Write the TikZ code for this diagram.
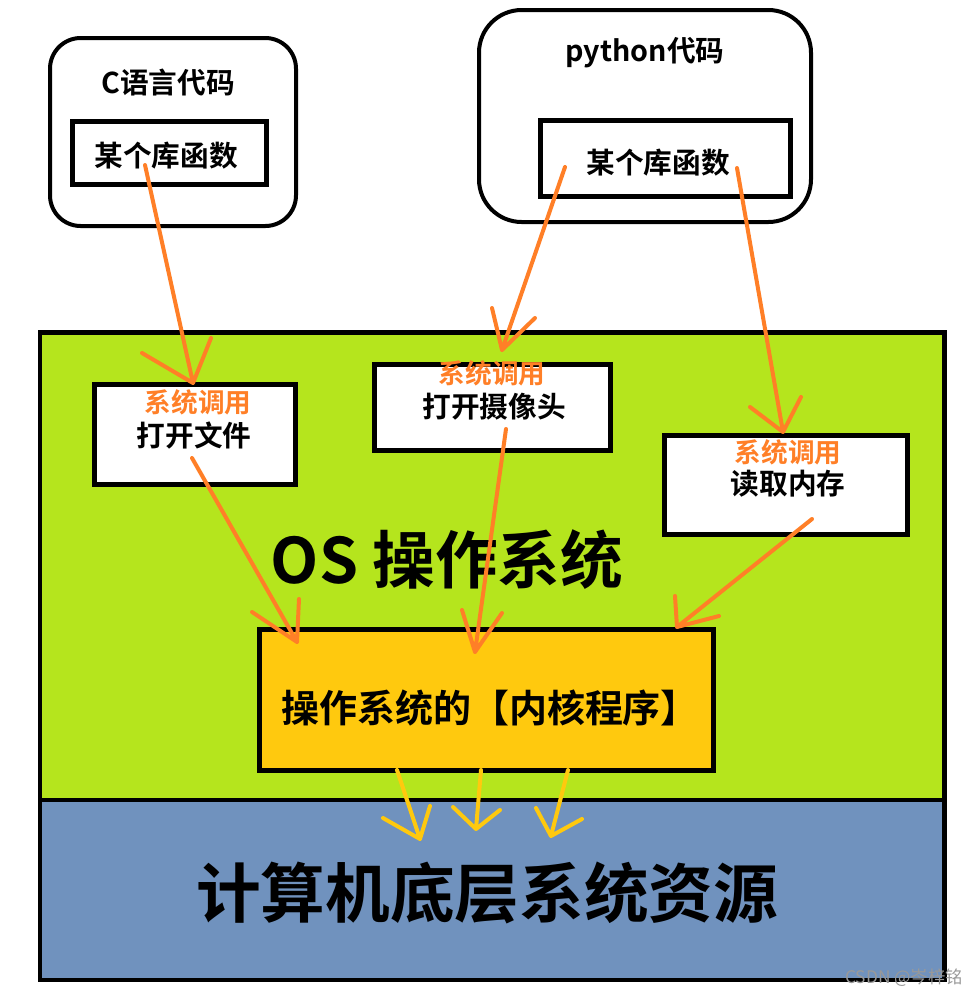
\documentclass[tikz,border=0pt]{standalone}
\usepackage{fontspec}
\setmainfont{Noto Sans CJK SC}[BoldFont={* Bold}]
\definecolor{zonegreen}{HTML}{B5E51D}
\definecolor{zoneblue}{HTML}{7092BE}
\definecolor{kernely}{HTML}{FFC90E}
\definecolor{callorange}{HTML}{FF7F27}
\def\u{0.75pt}
\begin{document}
\begin{tikzpicture}[x=0.75pt,y=-0.75pt,
  zone/.style={draw=black,line width=3.5pt},
  codebox/.style={draw=black,line width=3pt,fill=white,inner sep=0pt},
  libbox/.style={draw=black,line width=3.5pt,fill=white,inner sep=0pt},
  callbox/.style={draw=black,line width=3.8pt,fill=white,inner sep=0pt},
  kernelbox/.style={draw=black,line width=3.8pt,fill=kernely,inner sep=0pt},
  lbl/.style={font=\bfseries\fontsize{21.5pt}{24pt}\selectfont,inner sep=0pt},
  call/.style={font=\bfseries\fontsize{20pt}{22pt}\selectfont,text=callorange,inner sep=0pt},
  arr/.style={draw=callorange,line width=3pt,line cap=round,line join=round},
  yarr/.style={draw=kernely,line width=3pt,line cap=round,line join=round}]
\useasboundingbox (0,0) rectangle (973,997);

% zones
\node[zone,fill=zonegreen,minimum width=904.5*\u,minimum height=467.5*\u,inner sep=0pt] (os) at (492.25,566.25) {};
\node[zone,fill=zoneblue,minimum width=904.5*\u,minimum height=180*\u,inner sep=0pt] (hw) at (492.25,890) {};

% code boxes
\node[codebox,rounded corners=23pt,minimum width=246*\u,minimum height=188*\u] (cbox) at (173,132) {};
\node[lbl] (ctitle) at (168,83) {C语言代码};
\node[libbox,minimum width=194*\u,minimum height=63*\u] (clib) at (169.5,153) {};
\node[lbl] (clibt) at (166,156) {某个库函数};

\node[codebox,rounded corners=32pt,minimum width=332*\u,minimum height=212*\u] (pbox) at (645,116) {};
\node[lbl] (ptitle) at (645,53) {python代码};
\node[libbox,minimum width=250*\u,minimum height=76*\u] (plib) at (665.5,158.5) {};
\node[lbl] (plibt) at (658,163) {某个库函数};

% system call boxes
\node[callbox,minimum width=201*\u,minimum height=100*\u] (open) at (195,434.5) {};
\node[call] (call1) at (198,402) {系统调用};
\node[lbl] (opent) at (194,436) {打开文件};

\node[callbox,minimum width=236*\u,minimum height=86*\u] (cam) at (492.5,407.5) {};
\node[call] (call2) at (492,373) {系统调用};
\node[lbl] (camt) at (494,407) {打开摄像头};

\node[callbox,minimum width=243*\u,minimum height=99*\u] (mem) at (786,485) {};
\node[call] (call3) at (788,452) {系统调用};
\node[lbl] (memt) at (788,484) {读取内存};

% titles
\node[font=\bfseries\fontsize{47pt}{52pt}\selectfont,inner sep=0pt] (ostitle) at (447,560) {OS 操作系统};

% kernel
\node[kernelbox,minimum width=454*\u,minimum height=141*\u] (kernel) at (486.5,700) {};
\node[font=\bfseries\fontsize{28.5pt}{32pt}\selectfont,inner sep=0pt] (kernelt) at (490,708) {操作系统的【内核程序】};

\node[font=\bfseries\fontsize{48.5pt}{54pt}\selectfont,inner sep=0pt] (hwt) at (487,893) {计算机底层系统资源};

\node[font=\fontsize{13pt}{15pt}\selectfont,text=black!40,inner sep=0pt] (wm) at (904,978) {CSDN @岑梓铭};

% orange system-call arrows
\coordinate (a1s) at (145,165); \coordinate (a1t) at (193,383);
\coordinate (a2s) at (565,167); \coordinate (a2t) at (502,350);
\coordinate (a3s) at (737,168); \coordinate (a3t) at (783,432);
\coordinate (a4s) at (192,458); \coordinate (a4t) at (297,642);
\coordinate (a5s) at (506,429); \coordinate (a5t) at (475,652);
\coordinate (a6s) at (812,519); \coordinate (a6t) at (677,627);
\draw[arr] (a1s) -- (a1t) (142,353) -- (a1t) -- (211,338);
\draw[arr] (a2s) -- (a2t) (492,308) -- (a2t) -- (535,318);
\draw[arr] (a3s) -- (a3t) (750,407) -- (a3t) -- (801,397);
\draw[arr] (a4s) -- (a4t) (252,612) -- (a4t) -- (299,599);
\draw[arr] (a5s) -- (a5t) (462,610) -- (a5t) -- (502,613);
\draw[arr] (a6s) -- (a6t) (675,596) -- (a6t) -- (719,616);

% yellow kernel arrows
\coordinate (y1s) at (397,770); \coordinate (y1t) at (420,839);
\coordinate (y2s) at (481,770); \coordinate (y2t) at (476,829);
\coordinate (y3s) at (568,770); \coordinate (y3t) at (551,836);
\draw[yarr] (y1s) -- (y1t) (383,818) -- (y1t) -- (430,806);
\draw[yarr] (y2s) -- (y2t) (453,807) -- (y2t) -- (500,810);
\draw[yarr] (y3s) -- (y3t) (536,808) -- (y3t) -- (582,819);
\end{tikzpicture}
\end{document}
